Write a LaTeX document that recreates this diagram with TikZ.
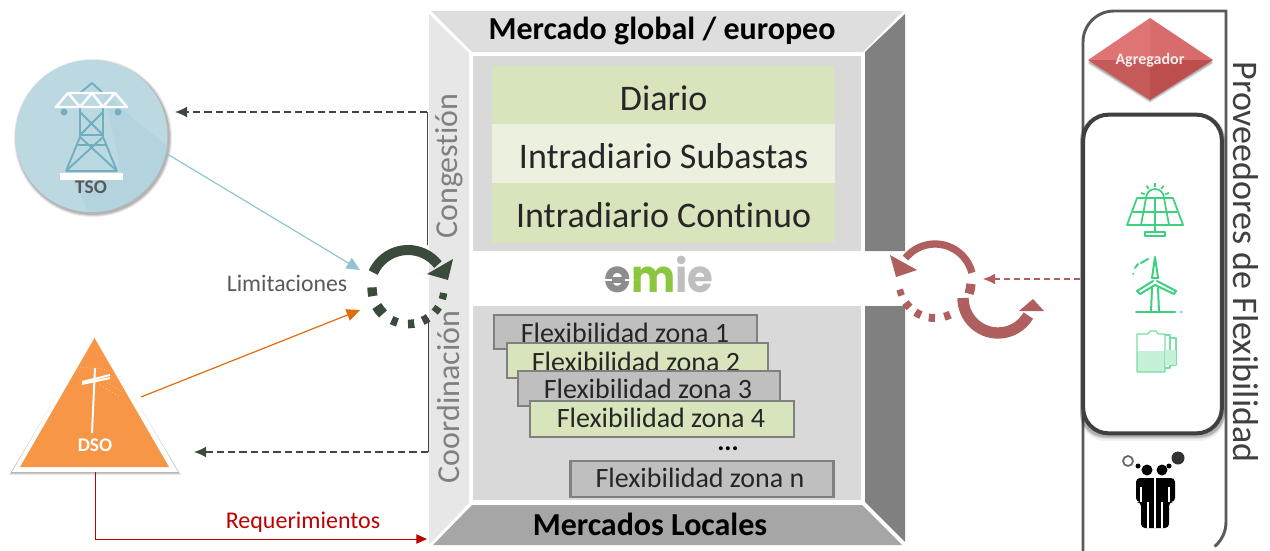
\documentclass[tikz,border=0pt]{standalone}
\usepackage{fontspec}
\setmainfont{Carlito}[Ligatures=NoCommon]
\usetikzlibrary{arrows.meta,calc}
\definecolor{panelL}{HTML}{D9D9D9}
\definecolor{topC}{HTML}{DEDEDE}
\definecolor{leftC}{HTML}{E7E7E7}
\definecolor{rightC}{HTML}{808080}
\definecolor{botC}{HTML}{A6A6A6}
\definecolor{greenA}{HTML}{D8E4BC}
\definecolor{greenB}{HTML}{ECF0DF}
\definecolor{flexG}{HTML}{BFBFBF}
\definecolor{darkG}{HTML}{3B4A3A}
\definecolor{rose}{HTML}{B05F5F}
\definecolor{tsoC}{HTML}{BCD9E2}
\definecolor{tsoD}{HTML}{B3D4DE}
\definecolor{towerC}{HTML}{6FAFC0}
\definecolor{tsoArrow}{HTML}{8FC4D4}
\definecolor{dsoC}{HTML}{F79646}
\definecolor{orangeA}{HTML}{E36C0A}
\definecolor{redA}{HTML}{C00000}
\definecolor{iconG}{HTML}{3DD07F}
\definecolor{frameC}{HTML}{595959}
\definecolor{agrA}{HTML}{DF7474}
\definecolor{agrB}{HTML}{D86C6C}
\definecolor{agrC}{HTML}{C65A58}
\definecolor{agrD}{HTML}{BC4F4D}
\newcommand{\fs}[1]{\fontsize{#1}{#1}\selectfont}
\tikzset{
  rowbox/.style={minimum width=257pt,anchor=north west,inner sep=0pt,text=black!85,font=\fs{27},text height=22pt,text depth=0pt},
  flexbox/.style={draw=rightC,line width=1.6pt,fill=flexG,anchor=north west,inner sep=0pt},
  flexgreen/.style={flexbox,fill=greenA},
  flextext/.style={inner sep=0pt,font=\fs{21},text=black!85,anchor=base},
  linkdash/.style={darkG,line width=.9pt,dash pattern=on 5.5pt off 3pt,-{Latex[length=9pt,width=8pt]}},
  linksolid/.style={darkG,line width=.75pt},
  title/.style={font=\fs{24}\bfseries,text=black,inner sep=0pt,anchor=base},
  sidetext/.style={font=\fs{24},text=rightC,rotate=90,inner sep=0pt},
}
\begin{document}
\begin{tikzpicture}[x=0.75pt,y=-0.75pt]
\useasboundingbox (0,0) rectangle (1270,550);
\clip (0,0) rectangle (1270,550);
% market frame
\fill[leftC] (429,14) -- (469,53) -- (469,503) -- (429,545) -- cycle;
\fill[topC] (431,11) -- (903,11) -- (863,52) -- (472,52) -- cycle;
\fill[rightC] (905,14) -- (905,251) -- (865,251) -- (865,52) -- cycle;
\fill[rightC] (905,306) -- (905,542) -- (865,502) -- (865,306) -- cycle;
\fill[botC] (472,505) -- (862,505) -- (902,545) -- (433,545) -- cycle;
\fill[panelL] (473,56) rectangle (861,251);
\fill[panelL] (473,306) rectangle (861,500);
\node[title] (global) at (662,39) {Mercado global / europeo};
\node[title] (locales) at (650,535) {Mercados Locales};
\node[sidetext] (cong) at (449,166) {Congestión};
\node[sidetext] (coord) at (449,397) {Coordinación};
% rows
\node[rowbox,fill=greenA,minimum height=44pt] (diario) at (492,66) {Diario};
\node[rowbox,fill=greenB,minimum height=44.25pt] (subastas) at (492,124) {Intradiario Subastas};
\node[rowbox,fill=greenA,minimum height=45pt] (continuo) at (492,183) {Intradiario Continuo};
% omie
\node[inner sep=0pt,xscale=.92,font=\fontspec{Poppins}\fs{34}\bfseries] (omie) at (659,275)
  {\textcolor{rightC!90}{o}\textcolor[HTML]{8CC63F}{m}\textcolor{flexG}{ie}};
\fill[white] (603,278.5) rectangle (634,281);
\fill[rightC!90] (612,277) rectangle (625,283);
% flex
\node[flexbox,minimum width=197pt,minimum height=25.5pt] (z1) at (493,314) {};
\node[flextext] (t1) at (625,342) {Flexibilidad zona 1};
\node[flexgreen,minimum width=196pt,minimum height=26.5pt] (z2) at (506,342) {};
\node[flextext] (t2) at (636,371) {Flexibilidad zona 2};
\node[flexbox,minimum width=196.5pt,minimum height=26pt] (z3) at (517,370) {};
\node[flextext] (t3) at (648,398) {Flexibilidad zona 3};
\node[flexgreen,minimum width=198pt,minimum height=27pt] (z4) at (529,400) {};
\node[flextext] (t4) at (661,427) {Flexibilidad zona 4};
\node[inner sep=0pt,font=\fs{20}\bfseries] (dots) at (728,449) {...};
\node[flexbox,line width=2.2pt,minimum width=197pt,minimum height=27pt] (zn) at (569,459.5) {};
\node[flextext] (tn) at (700,487) {Flexibilidad zona n};
% TSO
\foreach \r/\o in {3/.08,2/.10,1/.14}{\fill[black,opacity=\o] (93,138) circle ({(76+\r)*.75pt});}
\node[circle,fill=tsoC,minimum size=114pt,inner sep=0pt] (tso) at (91.5,136) {};
\begin{scope}
\clip (91.5,136) circle (57pt);
\fill[tsoD] (105,95) -- (172,150) -- (172,225) -- (95,225) -- (72,178) -- (122,178) -- cycle;
\end{scope}
\begin{scope}[towerC,line width=1.4pt,line join=round]
\draw (80,107) -- (80,137) -- (66,171) (103,107) -- (103,137) -- (117,171);
\draw (80,112) -- (103,135) (103,112) -- (80,135) (80,135) -- (103,135) (78,145) -- (106,145);
\draw (80,137) -- (117,171) (103,137) -- (66,171) (66,171) -- (117,171);
\draw (80,93) -- (92,83) -- (103,93);
\fill (64,112) circle (2.6pt) (118,112) circle (2.6pt);
\end{scope}
\draw[white,line width=1.8pt,line join=round] (56,107) -- (127,107) -- (115,93) -- (68,93) -- cycle (68,93) -- (80,107) -- (92,93) -- (103,107) -- (115,93);
\fill[white] (60,173) rectangle (123,180);
\node[inner sep=0pt,font=\fs{14.5}\bfseries,text=frameC] (tsol) at (91,187) {TSO};
% DSO
\foreach \r/\o in {3/.08,2/.12,1/.16}{\fill[black,opacity=\o] (95,329+\r) -- (178+\r,472+\r) -- (12-\r,472+\r) -- cycle;}
\coordinate (dsoB) at (95,472);
\coordinate (dsoR) at (141,397);
\fill[white] (95,329) -- (178,472) -- (12,472) -- cycle;
\fill[dsoC] (94.5,338) -- (169,467) -- (20,467) -- cycle;
\begin{scope}[white,line width=1.5pt]
\draw (95,368) -- (92,433);
\draw (82,382) -- (110,375) (82,384) -- (110,378);
\draw[white!50!dsoC,line width=.6pt,dotted] (80,367) -- (110,370) (100,385) -- (120,397) (104,380) -- (122,392);
\end{scope}
\node[inner sep=0pt,font=\fs{14.5}\bfseries,text=white] (dsol) at (95,445) {DSO};
% left cycle
\coordinate (cycleTL) at (360,270);
\coordinate (cycleBL) at (360,310);
\coordinate (cong1) at (427,245);
\coordinate (cong2) at (428,318);
\coordinate (tsoIn) at (175,112);
\coordinate (dsoIn) at (194,452);
\coordinate (reqEnd) at (427,539);
\coordinate (reqC) at (95,539);
\draw[linksolid] (cong1) -- (cong1 |- tsoIn);
\draw[linkdash] (cong1 |- tsoIn) -- (tsoIn);
\draw[linksolid] (cong2) -- (cong2 |- dsoIn);
\draw[linkdash] (cong2 |- dsoIn) -- (dsoIn);
\draw[darkG,line width=7.5pt] (408,288) +(204:38) arc[start angle=204,end angle=322,radius=38];
\fill[darkG] (453,259) -- (448,280) -- (427,274) -- cycle;
\foreach \a/\s/\w in {174/7/7,142/8/8,112/5/6.5,85/5/6.5,61/5/6.5,37/5/6,13/5/5.5}{
  \draw[darkG,line width=\w pt] (408,288) +(\a-\s:36) arc[start angle=\a-\s,end angle=\a+\s,radius=36];}
% TSO/DSO links
\draw[tsoArrow,line width=.9pt,-{Triangle[length=10pt,width=9pt]}] (tso.-13) -- (cycleTL);
\draw[orangeA,line width=.9pt,-{Triangle[length=10pt,width=9pt]}] (dsoR) -- (cycleBL);
\draw[redA,line width=.75pt,-{Triangle[length=8pt,width=7pt]}] (dsoB) -- (reqC) -- (reqEnd);
\node[inner sep=0pt,font=\fs{17.8},text=frameC,anchor=base] (lim) at (287,291) {Limitaciones};
\node[inner sep=0pt,font=\fs{18},text=redA,anchor=base] (req) at (303,528) {Requerimientos};
% right cycle
\draw[rose,line width=5.5pt] (935,282) +(346:38) arc[start angle=346,end angle=219,radius=38];
\fill[rose] (890,255) -- (896,277) -- (917,270) -- cycle;
\foreach \a/\s/\w in {11/8/7,70/5/6,95/5/6,118/5/6,140/5/6,163/5/5}{
  \draw[rose,line width=\w pt] (935,282) +(\a-\s:36) arc[start angle=\a-\s,end angle=\a+\s,radius=36];}
\draw[rose,line width=8.5pt] (998,298) +(180:35) arc[start angle=180,end angle=30,radius=35];
\fill[rose] (1033,299) -- (1044,311) -- (1019,311) -- cycle;
% providers
\coordinate (provOut) at (1080,279);
\coordinate (provIn) at (983,279);
\draw[frameC,line width=2.2pt] (1083,560) -- (1083,42) arc[start angle=180,end angle=270,radius=31] -- (1226,11) -- (1226,522) arc[start angle=0,end angle=50,radius=32];
\foreach \r/\o in {5/.05,3/.08,2/.10,1/.12}{\fill[black,opacity=\o,rounded corners=19pt] (1080,113+\r) rectangle (1225,436+\r);}
\node[draw=black!75,line width=3pt,fill=white,rounded corners=19pt,minimum width=104pt,minimum height=239pt,inner sep=0pt] (prov) at (1152.5,274) {};
\draw[rose,line width=.8pt,dash pattern=on 4.5pt off 3pt,-{Latex[length=9pt,width=8pt]}] (provOut) -- (provIn);
% aggregator
\coordinate (agrM) at (1150,60);
\foreach \r/\o in {3/.08,2/.12,1/.16}{\fill[black,opacity=\o] (1088,61+\r) -- (1150,19+\r) -- (1213,61+\r) -- (1150,100+\r) -- cycle;}
\fill[agrA] (1088,60) -- (1150,18) -- (1150,60) -- cycle;
\fill[agrB] (1213,60) -- (1150,18) -- (1150,60) -- cycle;
\fill[agrC] (1088,60) -- (1150,100) -- (1150,60) -- cycle;
\fill[agrD] (1213,60) -- (1150,100) -- (1150,60) -- cycle;
\node[inner sep=0pt,font=\fs{12}\bfseries,text=white!90!agrD] (agrl) at (agrM) {Agregador};
\node[inner sep=0pt,font=\fs{27},text=black!75,rotate=-90] (provl) at (1246,262) {Proveedores de Flexibilidad};
% solar icon
\begin{scope}[iconG,line width=1.3pt,line join=round]
\draw (1137,198) -- (1173,198) -- (1183,225) -- (1127,225) -- cycle;
\draw (1133,212) -- (1177,212) (1146,198) -- (1141,225) (1155,198) -- (1155,225) (1164,198) -- (1169,225);
\draw (1146,198) arc[start angle=180,end angle=360,radius=9];
\foreach \a in {200,235,270,305,340}{\draw ($(1155,198)+(\a:11)$) -- ($(1155,198)+(\a:15)$);}
\draw (1155,225) -- (1155,232) (1145,232) rectangle (1165,236);
\end{scope}
% wind icon
\begin{scope}[iconG,line width=1.5pt,line join=round,line cap=round]
\draw (1155,257) -- (1152,278) -- (1158,278) -- cycle;
\draw (1153,281) -- (1137,291) -- (1140,294) -- (1155,285);
\draw (1157,281) -- (1176,291) -- (1174,294) -- (1155,285);
\draw (1152,288) -- (1151,312) (1158,288) -- (1159,312);
\draw (1136,312) -- (1175,312) (1181,312) -- (1181.3,312);
\draw (1135,268) -- (1138,264) (1141,263) -- (1148,259) (1133,274) -- (1133.3,274);
\end{scope}
% battery icon
\begin{scope}[iconG!70!white,line width=.9pt,line join=round]
\fill[iconG!30!white] (1137,351) rectangle (1165,372);
\draw (1137,334) -- (1148,334) -- (1150,331) -- (1156,331) -- (1158,334) -- (1165,334) -- (1165,372) -- (1137,372) -- cycle;
\draw (1165,335) -- (1170,335) -- (1170,368) -- (1165,368);
\draw (1170,338) -- (1176,338) -- (1176,365) -- (1170,365);
\fill[iconG!30!white] (1165,350) rectangle (1176,365);
\end{scope}
% people
\begin{scope}[black]
\fill (1147,470) circle (5.5) (1162,470) circle (5.5);
\fill[rounded corners=3pt] (1136,478) -- (1175,478) -- (1175,502) -- (1169,502) -- (1169,528) -- (1141,528) -- (1141,502) -- (1136,502) -- cycle;
\draw[white,line width=.8pt] (1141,487) -- (1141,502) (1155,478) -- (1155,528) (1148,502) -- (1148,528) (1162,502) -- (1162,528) (1169,487) -- (1169,502);
\fill (1138,466) circle (2.5) (1169,466) circle (2.5);
\draw[line width=1.3pt,black!60] (1128,461) circle (5);
\fill[black!80] (1178,458) circle (6.5);
\end{scope}
\end{tikzpicture}
\end{document}
